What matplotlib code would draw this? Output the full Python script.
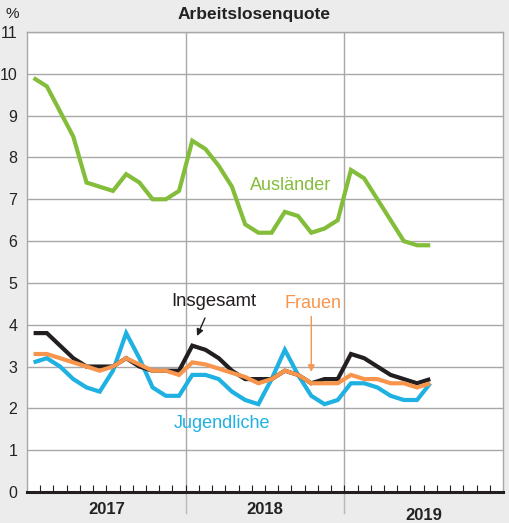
import matplotlib
matplotlib.use("Agg")
import matplotlib.pyplot as plt
import numpy as np

plt.rcParams['font.family'] = ['Liberation Sans', 'DejaVu Sans']

# Monthly unemployment rates, January 2017 to July 2019
auslaender = [9.9, 9.7, 9.1, 8.5, 7.4, 7.3, 7.2, 7.6, 7.4, 7.0, 7.0, 7.2,
              8.4, 8.2, 7.8, 7.3, 6.4, 6.2, 6.2, 6.7, 6.6, 6.2, 6.3, 6.5,
              7.7, 7.5, 7.0, 6.5, 6.0, 5.9, 5.9]
insgesamt = [3.8, 3.8, 3.5, 3.2, 3.0, 3.0, 3.0, 3.2, 3.0, 2.9, 2.9, 2.9,
             3.5, 3.4, 3.2, 2.9, 2.7, 2.7, 2.7, 2.9, 2.8, 2.6, 2.7, 2.7,
             3.3, 3.2, 3.0, 2.8, 2.7, 2.6, 2.7]
frauen = [3.3, 3.3, 3.2, 3.1, 3.0, 2.9, 3.0, 3.2, 3.05, 2.9, 2.9, 2.8,
          3.1, 3.05, 2.95, 2.85, 2.75, 2.6, 2.7, 2.9, 2.8, 2.6, 2.6, 2.6,
          2.8, 2.7, 2.7, 2.6, 2.6, 2.5, 2.6]
jugendliche = [3.1, 3.2, 3.0, 2.7, 2.5, 2.4, 2.9, 3.8, 3.2, 2.5, 2.3, 2.3,
               2.8, 2.8, 2.7, 2.4, 2.2, 2.1, 2.7, 3.4, 2.8, 2.3, 2.1, 2.2,
               2.6, 2.6, 2.5, 2.3, 2.2, 2.2, 2.6]
years = ["2017", "2018", "2019"]
y_ticks = list(range(0, 12))

GREEN = "#83bd3a"
BLACK = "#231f20"
ORANGE = "#f7954d"
BLUE = "#1eb1e1"
BG = "#ececec"
GRID = "#a8a8a8"

fig = plt.figure(figsize=(5.09, 5.23), dpi=100, facecolor=BG)
ax = fig.add_axes([27 / 509, 31 / 523, 476 / 509, 460 / 523])
ax.set_facecolor("white")

n_months = 12 * len(years)
ax.set_xlim(0, n_months)
ax.set_ylim(0, 11)

# horizontal grid at each percent
for v in y_ticks[1:]:
    ax.axhline(v, color=GRID, lw=1.0, zorder=1)
# year separators, extended into the label area
for k in range(1, len(years)):
    ax.axvline(12 * k, color=GRID, lw=1.0, zorder=1)
    ax.plot([12 * k, 12 * k], [0, -0.5], color="#b8b8b8", lw=1.0,
            clip_on=False, zorder=1)

x = np.arange(len(auslaender)) + 0.5
for series, col in [(auslaender, GREEN), (jugendliche, BLUE),
                    (insgesamt, BLACK), (frauen, ORANGE)]:
    ax.plot(x, series, color=col, lw=3.0, solid_joinstyle="miter",
            solid_capstyle="butt", zorder=3)

# spines
for s in ["left", "right", "top"]:
    ax.spines[s].set_color(GRID)
    ax.spines[s].set_linewidth(1.0)
ax.spines["bottom"].set_color(BLACK)
ax.spines["bottom"].set_linewidth(2.2)
ax.spines["bottom"].set_zorder(5)

# month ticks pointing up from the base line
ax.set_xticks(np.arange(1, n_months))
ax.tick_params(axis="x", direction="in", length=5, width=0.8, color=BLACK,
               labelbottom=False)
ax.set_yticks(y_ticks)
ax.tick_params(axis="y", length=0, pad=7, labelsize=11.5, labelcolor="#222222")

# year labels
year_y = [-0.42, -0.42, -0.55]
for k, (yr, yy) in enumerate(zip(years, year_y)):
    ax.text(12 * k + 6, yy, yr, ha="center", va="center", fontsize=12,
            fontweight="bold", color="#222222", clip_on=False)

fig.text(0.5, 1 - 15 / 523, "Arbeitslosenquote", ha="center", va="center",
         fontsize=12.5, fontweight="bold", color="#222222")
fig.text(12 / 509, 1 - 14 / 523, "%", ha="center", va="center",
         fontsize=11, color="#222222")

# series labels
ax.text(16.9, 7.33, "Ausländer", color=GREEN, fontsize=13, ha="left", va="center")
ax.text(10.9, 4.55, "Insgesamt", color=BLACK, fontsize=13.3, ha="left", va="center")
ax.text(19.5, 4.5, "Frauen", color=ORANGE, fontsize=13, ha="left", va="center")
ax.text(11.1, 1.65, "Jugendliche", color=BLUE, fontsize=13, ha="left", va="center")

ax.annotate("", xy=(12.86, 3.73), xytext=(13.46, 4.16),
            arrowprops=dict(arrowstyle="-|>", color=BLACK, lw=1.0,
                            mutation_scale=10, shrinkA=0, shrinkB=0))
ax.annotate("", xy=(21.5, 2.87), xytext=(21.5, 4.2),
            arrowprops=dict(arrowstyle="-|>", color=ORANGE, lw=1.0,
                            mutation_scale=10, shrinkA=0, shrinkB=0))

fig.savefig("out.png", dpi=100, facecolor=BG)
